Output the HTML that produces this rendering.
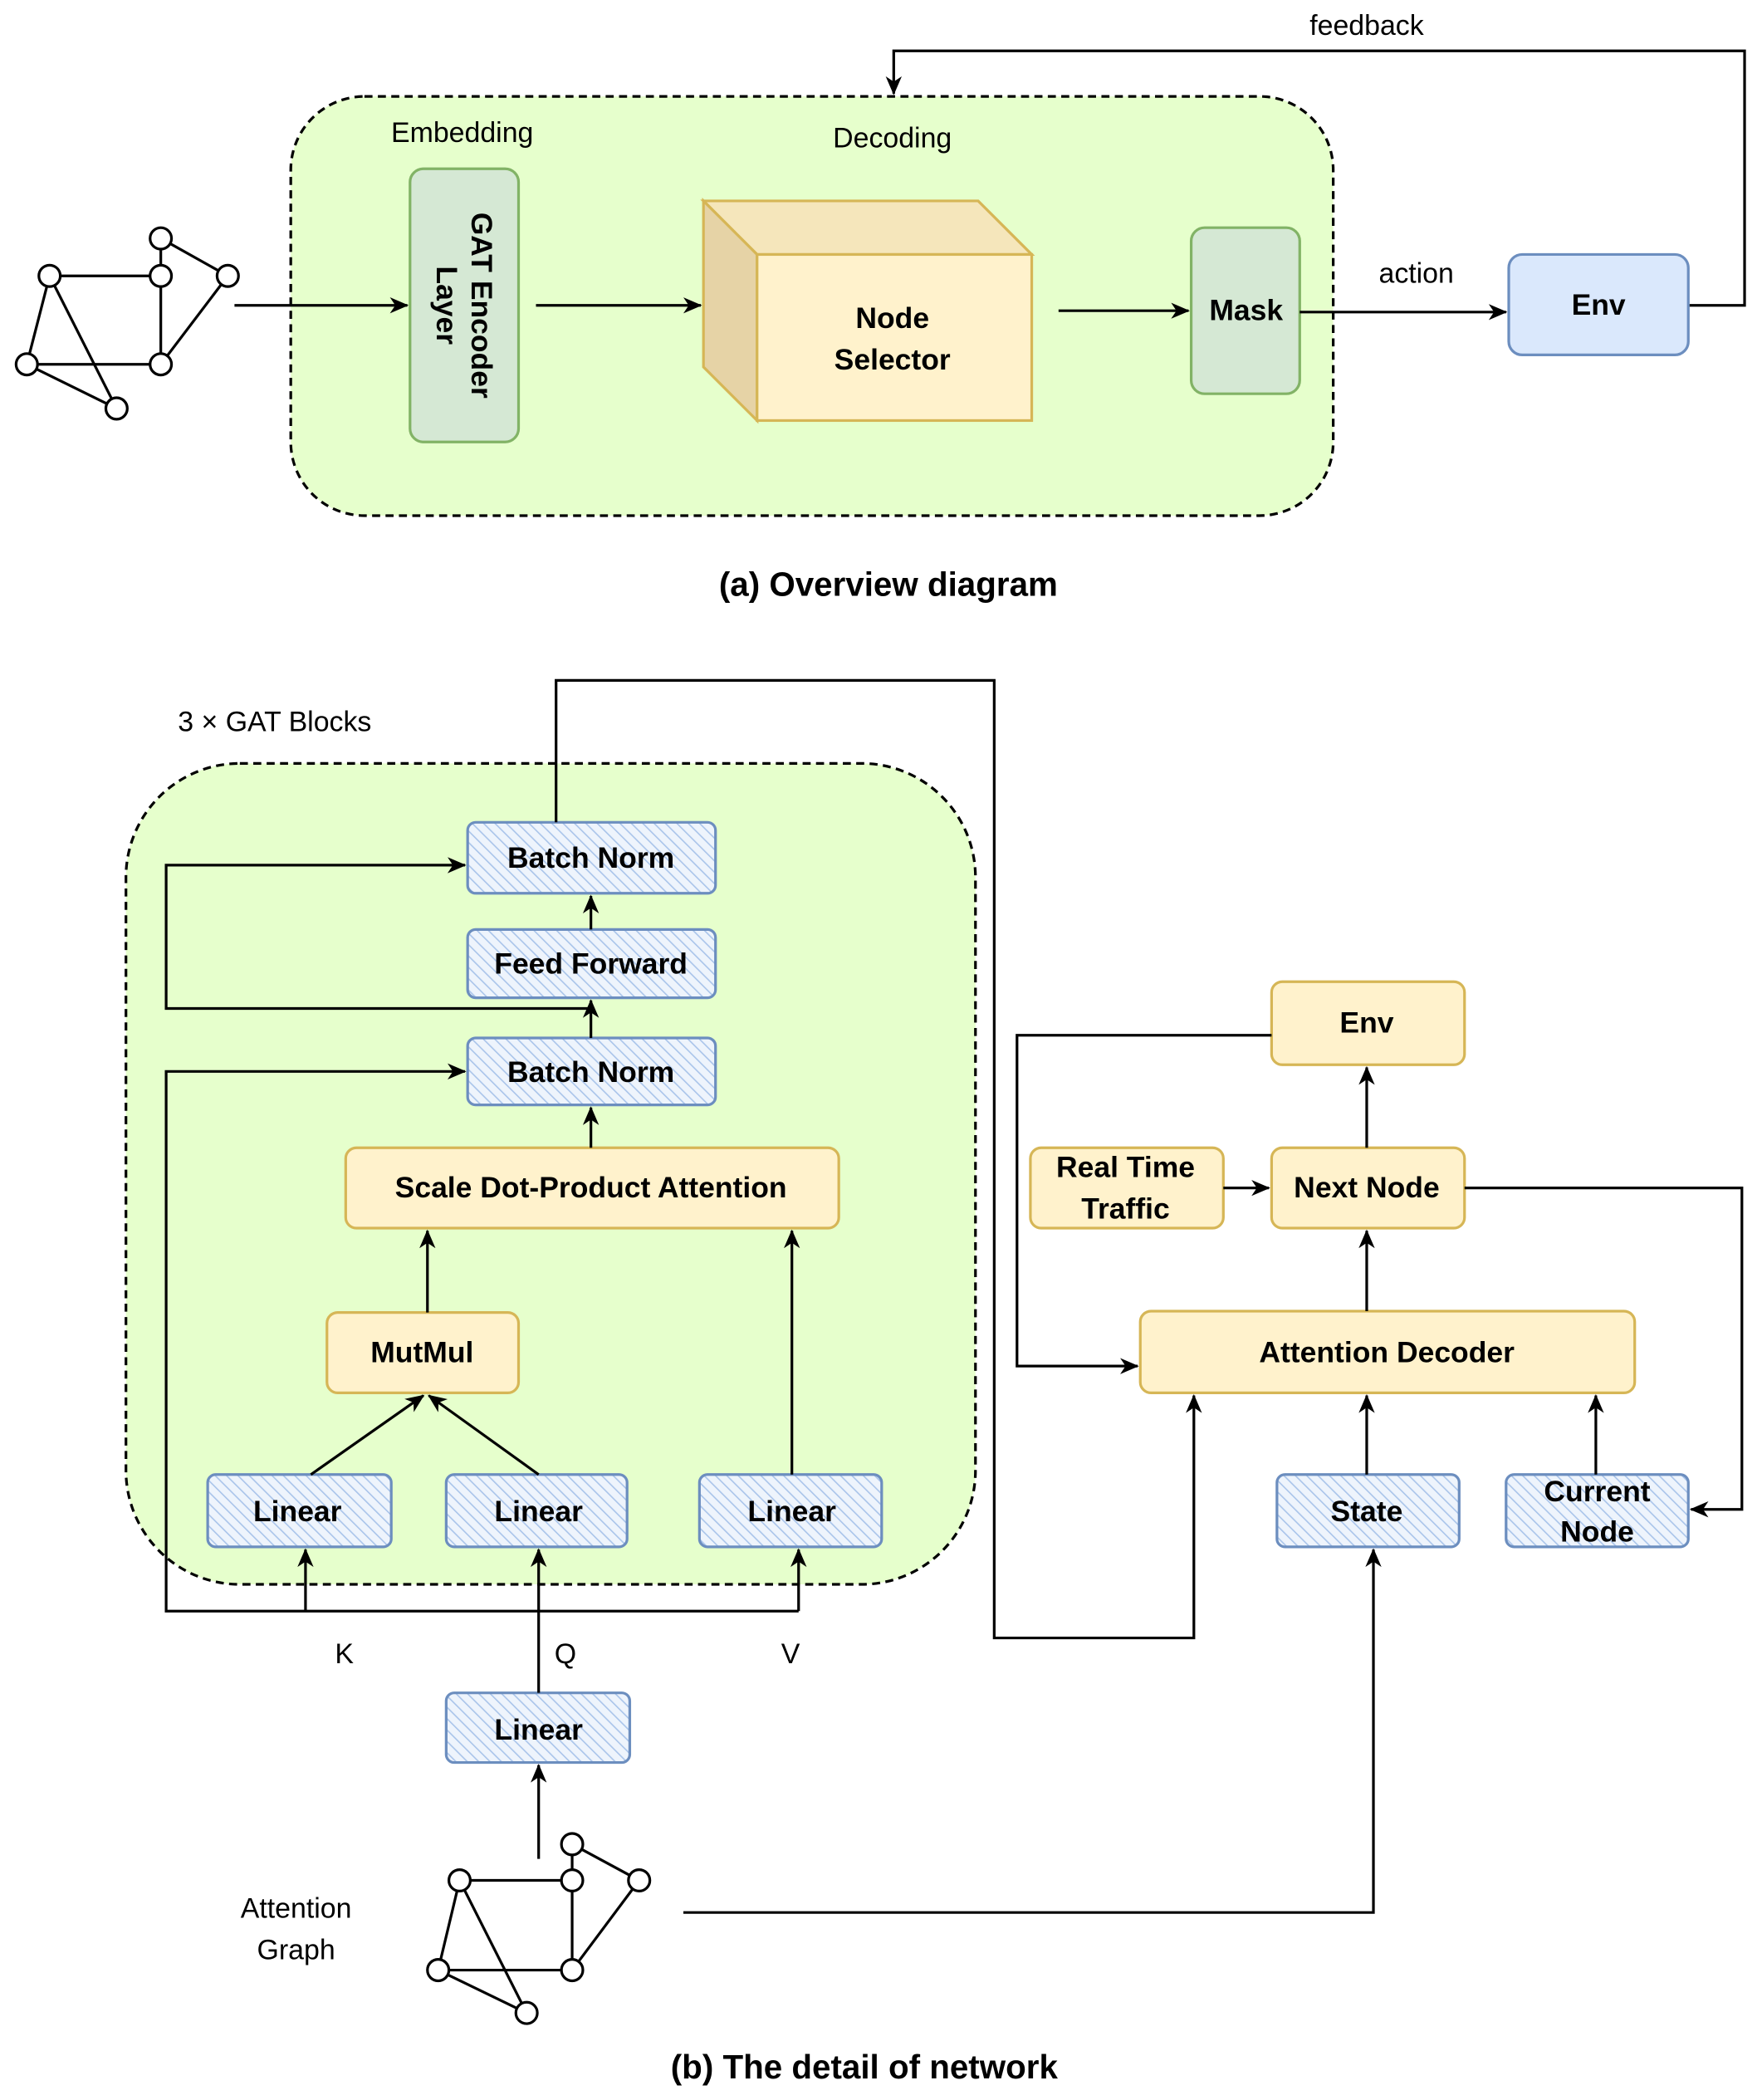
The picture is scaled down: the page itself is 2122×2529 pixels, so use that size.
<!DOCTYPE html>
<html><head><meta charset="utf-8"><style>
html,body{margin:0;padding:0;background:#fff;}
svg{display:block;}
text{font-family:"Liberation Sans",Arial,sans-serif;}
.b{font-weight:bold;font-size:22px;text-anchor:middle;}
.n{font-size:21px;text-anchor:middle;}
</style></head><body>
<svg width="2122" height="2529" viewBox="0 0 1315 1568" preserveAspectRatio="none" xmlns="http://www.w3.org/2000/svg">
<defs>
<marker id="a" markerWidth="14" markerHeight="14" refX="13" refY="7" orient="auto" markerUnits="userSpaceOnUse"><path d="M0,1 L14,7 L0,13 L4,7 z" fill="#000"/></marker>
<pattern id="h" width="6" height="6" patternUnits="userSpaceOnUse" patternTransform="rotate(-45)"><rect width="6" height="6" fill="#eef4fc"/><line x1="0" y1="0" x2="0" y2="6" stroke="#a9c4ea" stroke-width="2"/></pattern>
</defs>
<g stroke="#000" stroke-width="2" fill="none">
<rect x="217" y="72" width="778" height="313" rx="55" fill="#e6ffcc" stroke-dasharray="6,4"/>
<polyline points="1260,228 1302,228 1302,38 667,38 667,70" marker-end="url(#a)"/>
<rect x="306" y="126" width="81" height="204" rx="10" fill="#d5e8d4" stroke="#82b366"/>
<g fill="#fff" stroke-width="2">
<line x1="37" y1="206" x2="120" y2="206"/><line x1="120" y1="178" x2="120" y2="272"/><line x1="120" y1="178" x2="170" y2="206"/><line x1="170" y1="206" x2="120" y2="272"/><line x1="37" y1="206" x2="20" y2="272"/><line x1="37" y1="206" x2="87" y2="305"/><line x1="20" y1="272" x2="120" y2="272"/><line x1="20" y1="272" x2="87" y2="305"/>
<circle cx="37" cy="206" r="8"/><circle cx="120" cy="178" r="8"/><circle cx="120" cy="206" r="8"/><circle cx="170" cy="206" r="8"/><circle cx="20" cy="272" r="8"/><circle cx="120" cy="272" r="8"/><circle cx="87" cy="305" r="8"/>
</g>
<line x1="175" y1="228" x2="304" y2="228" marker-end="url(#a)"/>
<line x1="400" y1="228" x2="523" y2="228" marker-end="url(#a)"/>
<polygon points="525,150 730,150 770,190 565,190" fill="#f5e6bb" stroke="#d6b656"/>
<polygon points="525,150 565,190 565,314 525,274" fill="#e6d3a6" stroke="#d6b656"/>
<rect x="565" y="190" width="205" height="124" fill="#fff2cc" stroke="#d6b656"/>
<line x1="790" y1="232" x2="887" y2="232" marker-end="url(#a)"/>
<rect x="889" y="170" width="81" height="124" rx="10" fill="#d5e8d4" stroke="#82b366"/>
<line x1="970" y1="233" x2="1124" y2="233" marker-end="url(#a)"/>
<rect x="1126" y="190" width="134" height="75" rx="10" fill="#dae8fc" stroke="#6c8ebf"/>
<rect x="94" y="570" width="634" height="613" rx="85" fill="#e6ffcc" stroke-dasharray="6,4"/>
<g stroke="#6c8ebf" fill="url(#h)">
<rect x="349" y="614" width="185" height="53" rx="6"/>
<rect x="349" y="694" width="185" height="51" rx="6"/>
<rect x="349" y="775" width="185" height="50" rx="6"/>
<rect x="155" y="1101" width="137" height="54" rx="6"/>
<rect x="333" y="1101" width="135" height="54" rx="6"/>
<rect x="522" y="1101" width="136" height="54" rx="6"/>
<rect x="333" y="1264" width="137" height="52" rx="6"/>
<rect x="953" y="1101" width="136" height="54" rx="6"/>
<rect x="1124" y="1101" width="136" height="54" rx="6"/>
</g>
<g fill="#fff2cc" stroke="#d6b656">
<rect x="258" y="857" width="368" height="60" rx="8"/>
<rect x="244" y="980" width="143" height="60" rx="8"/>
<rect x="949" y="733" width="144" height="62" rx="8"/>
<rect x="949" y="857" width="144" height="60" rx="8"/>
<rect x="769" y="857" width="144" height="60" rx="8"/>
<rect x="851" y="979" width="369" height="61" rx="8"/>
</g>
<line x1="232" y1="1101" x2="316" y2="1042" marker-end="url(#a)"/>
<line x1="402" y1="1101" x2="320" y2="1042" marker-end="url(#a)"/>
<line x1="319" y1="980" x2="319" y2="919" marker-end="url(#a)"/>
<line x1="591" y1="1101" x2="591" y2="919" marker-end="url(#a)"/>
<line x1="441" y1="857" x2="441" y2="827" marker-end="url(#a)"/>
<line x1="441" y1="775" x2="441" y2="747" marker-end="url(#a)"/>
<line x1="441" y1="694" x2="441" y2="669" marker-end="url(#a)"/>
<polyline points="441,753 124,753 124,646 347,646" marker-end="url(#a)"/>
<polyline points="596,1203 124,1203 124,800 347,800" marker-end="url(#a)"/>
<line x1="228" y1="1203" x2="228" y2="1157" marker-end="url(#a)"/>
<line x1="596" y1="1203" x2="596" y2="1157" marker-end="url(#a)"/>
<line x1="402" y1="1264" x2="402" y2="1157" marker-end="url(#a)"/>
<line x1="402" y1="1388" x2="402" y2="1318" marker-end="url(#a)"/>
<polyline points="415,614 415,508 742,508 742,1223 891,1223 891,1042" marker-end="url(#a)"/>
<polyline points="510,1428 1025,1428 1025,1157" marker-end="url(#a)"/>
<line x1="1020" y1="857" x2="1020" y2="797" marker-end="url(#a)"/>
<line x1="913" y1="887" x2="947" y2="887" marker-end="url(#a)"/>
<line x1="1020" y1="979" x2="1020" y2="919" marker-end="url(#a)"/>
<line x1="1020" y1="1101" x2="1020" y2="1042" marker-end="url(#a)"/>
<line x1="1191" y1="1101" x2="1191" y2="1042" marker-end="url(#a)"/>
<polyline points="1093,887 1300,887 1300,1127 1262,1127" marker-end="url(#a)"/>
<polyline points="949,773 759,773 759,1020 849,1020" marker-end="url(#a)"/>
<g fill="#fff">
<line x1="343" y1="1404" x2="427" y2="1404"/><line x1="427" y1="1377" x2="427" y2="1471"/><line x1="427" y1="1377" x2="477" y2="1404"/><line x1="477" y1="1404" x2="427" y2="1471"/><line x1="343" y1="1404" x2="327" y2="1471"/><line x1="343" y1="1404" x2="393" y2="1503"/><line x1="327" y1="1471" x2="427" y2="1471"/><line x1="327" y1="1471" x2="393" y2="1503"/>
<circle cx="343" cy="1404" r="8"/><circle cx="427" cy="1377" r="8"/><circle cx="427" cy="1404" r="8"/><circle cx="477" cy="1404" r="8"/><circle cx="327" cy="1471" r="8"/><circle cx="427" cy="1471" r="8"/><circle cx="393" cy="1503" r="8"/>
</g>
</g>
<text x="1020" y="26" class="n">feedback</text>
<text x="345" y="106" class="n">Embedding</text>
<text x="666" y="110" class="n">Decoding</text>
<text class="b" transform="translate(346,228) rotate(90)"><tspan x="0" y="-6">GAT Encoder</tspan><tspan x="0" y="20">Layer</tspan></text>
<text x="666" y="245" class="b">Node</text>
<text x="666" y="276" class="b">Selector</text>
<text x="930" y="239" class="b">Mask</text>
<text x="1057" y="211" class="n">action</text>
<text x="1193" y="235" class="b">Env</text>
<text x="663" y="445" class="b" style="font-size:25px">(a) Overview diagram</text>
<text x="205" y="546" class="n">3 × GAT Blocks</text>
<text x="441" y="648" class="b">Batch Norm</text>
<text x="441" y="727" class="b">Feed Forward</text>
<text x="441" y="808" class="b">Batch Norm</text>
<text x="441" y="894" class="b">Scale Dot-Product Attention</text>
<text x="315" y="1017" class="b">MutMul</text>
<text x="222" y="1136" class="b">Linear</text>
<text x="402" y="1136" class="b">Linear</text>
<text x="591" y="1136" class="b">Linear</text>
<text x="257" y="1242" class="n">K</text>
<text x="422" y="1242" class="n">Q</text>
<text x="590" y="1242" class="n">V</text>
<text x="402" y="1299" class="b">Linear</text>
<text x="221" y="1432" class="n">Attention</text>
<text x="221" y="1463" class="n">Graph</text>
<text x="1020" y="771" class="b">Env</text>
<text x="1020" y="894" class="b">Next Node</text>
<text x="840" y="879" class="b">Real Time</text>
<text x="840" y="910" class="b">Traffic</text>
<text x="1035" y="1017" class="b">Attention Decoder</text>
<text x="1020" y="1136" class="b">State</text>
<text x="1192" y="1121" class="b">Current</text>
<text x="1192" y="1151" class="b">Node</text>
<text x="645" y="1552" class="b" style="font-size:25px">(b) The detail of network</text>
</svg>
</body></html>
